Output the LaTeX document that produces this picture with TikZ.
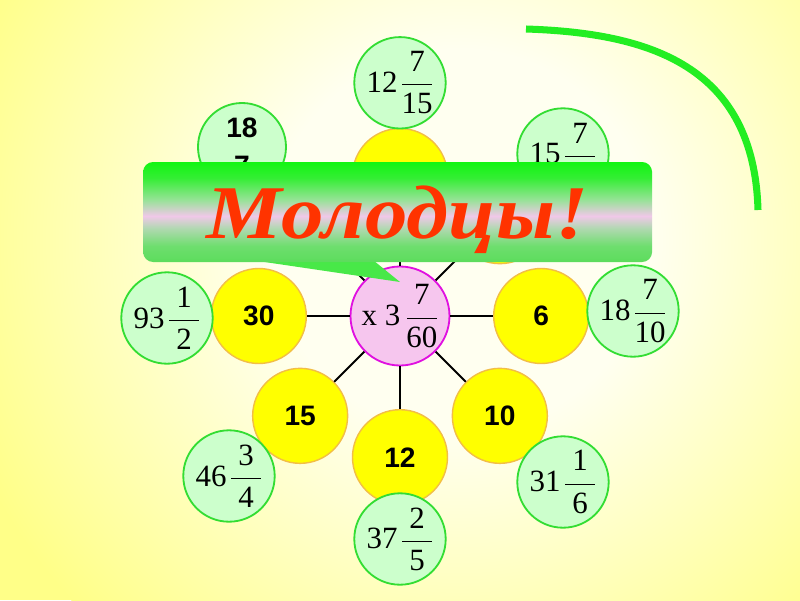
\RequirePackage{fix-cm}
\documentclass[tikz,border=0pt]{standalone}
\usepackage{amsmath}
\usepackage{fontspec}
\setmainfont{Liberation Serif}
\setsansfont{Liberation Sans}
\newfontfamily\praisefont[FakeStretch=1.12]{Liberation Serif}
\usetikzlibrary{positioning,shadings}
\definecolor{sunyellow}{HTML}{FFFF00}
\definecolor{sunedge}{HTML}{F2BE45}
\definecolor{mintfill}{HTML}{CCFFCC}
\definecolor{mintedge}{HTML}{33DD33}
\definecolor{hubfill}{HTML}{F6C6EE}
\definecolor{hubedge}{HTML}{E010E0}
\definecolor{arcgreen}{HTML}{22EE22}
\definecolor{praisered}{HTML}{FF3300}
\definecolor{bgyellow}{HTML}{FFFF88}
\definecolor{bgcream}{HTML}{FFFFF0}
\definecolor{bantop}{HTML}{12F512}
\definecolor{banhigh}{HTML}{34EE34}
\definecolor{banlight}{HTML}{98E298}
\definecolor{banpink}{HTML}{F0C8E8}
\definecolor{bangrey}{HTML}{B2D8B2}
\definecolor{banlow}{HTML}{6EDE6E}
\definecolor{banbot}{HTML}{5CDC5C}
\definecolor{tailgreen}{HTML}{48E848}
\pgfdeclareverticalshading{bannershade}{100bp}{color(0bp)=(banbot); color(25bp)=(banbot); color(33bp)=(banlow); color(42bp)=(bangrey); color(48bp)=(banpink); color(56bp)=(banlight); color(67bp)=(banhigh); color(75bp)=(bantop); color(100bp)=(bantop)}
\pgfdeclareradialshading{bgshade}{\pgfpoint{0bp}{0bp}}{color(0bp)=(bgcream); color(9bp)=(bgcream); color(25bp)=(bgyellow); color(50bp)=(bgyellow)}
\newcommand{\fracpart}[2]{\dfrac{\text{\makebox[0.95em]{#1}}}{\text{\makebox[0.95em]{#2}}}}
\newcommand{\mixfrac}[3]{$\text{#1}\hspace{0.1em}\fracpart{#2}{#3}$}

\begin{document}
\begin{tikzpicture}[
    numdisc/.style={circle, draw=sunedge, line width=1pt, fill=sunyellow, minimum size=2.375cm, inner sep=0pt, font=\sffamily\bfseries\fontsize{20}{24}\selectfont},
    ansdisc/.style={circle, draw=mintedge, line width=1.3pt, fill=mintfill, minimum size=2.2cm, inner sep=0pt, font=\fontsize{22}{26}\selectfont},
    hubdisc/.style={circle, draw=hubedge, line width=1.3pt, fill=hubfill, minimum size=2.375cm, inner sep=0pt, font=\fontsize{22}{26}\selectfont},
    spokeline/.style={line width=1.4pt, black},
    banner/.style={rectangle, rounded corners=0.25cm, shade, shading=bannershade, minimum width=12.725cm, minimum height=2.5cm, inner sep=0pt, text depth=0pt, text=praisered, font=\praisefont\bfseries\itshape\fontsize{54}{60}\selectfont},
]
\useasboundingbox (-10,-7.1) rectangle (10,7.9);
% background
\fill[bgyellow] (-10,-7.1) rectangle (10,7.9);
\begin{scope}
\clip (-10,-7.1) rectangle (10,7.9);
\shade[shading=bgshade] (1.5,1.9) circle (13.25);
\end{scope}
% multiplier and the numbers round it
\node[hubdisc] (hub) at (0,0) {$\text{x 3}\,\fracpart{7}{60}$};
\node[numdisc] (n0) at (0:3.53) {6};
\node[numdisc] (n45) at (45:3.53) {};
\node[numdisc] (n90) at (90:3.5) {};
\node[numdisc] (n135) at (135:3.53) {};
\node[numdisc] (n180) at (180:3.53) {30};
\node[numdisc] (n225) at (225:3.53) {15};
\node[numdisc] (n270) at (270:3.53) {12};
\node[numdisc] (n315) at (315:3.53) {10};
\draw[spokeline] (hub) -- (n0);
\draw[spokeline] (hub) -- (n45);
\draw[spokeline] (hub) -- (n90);
\draw[spokeline] (hub) -- (n135);
\draw[spokeline] (hub) -- (n180);
\draw[spokeline] (hub) -- (n225);
\draw[spokeline] (hub) -- (n270);
\draw[spokeline] (hub) -- (n315);
% answers
\node[ansdisc] (a0) at (5.825,0.125) {\mixfrac{18}{7}{10}};
\node[ansdisc] (a45) at (4.075,4.05) {\mixfrac{15}{7}{\phantom{12}}};
\node[ansdisc] (a90) at (0,5.83) {\mixfrac{12}{7}{15}};
\node[ansdisc, align=center, font=\sffamily\bfseries\fontsize{20}{27}\selectfont] (a135) at (-3.95,4.225) {18\\7};
\node[ansdisc] (a180) at (-5.825,-0.05) {\mixfrac{93}{1}{2}};
\node[ansdisc] (a225) at (-4.275,-4.0) {\mixfrac{46}{3}{4}};
\node[ansdisc] (a270) at (0,-5.575) {\mixfrac{37}{2}{5}};
\node[ansdisc] (a315) at (4.075,-4.15) {\mixfrac{31}{1}{6}};
% arc
\draw[arcgreen, line width=5pt] (3.15,7.175) .. controls (6.25,7.075) and (8.85,6.25) .. (8.95,2.65);
% callout
\coordinate (tailL) at (-4.4,1.5);
\coordinate (tailR) at (-0.8,1.5);
\coordinate (tailtip) at (0,0.85);
\fill[tailgreen] (tailL) -- (tailtip) -- (tailR) -- cycle;
\node[banner] (praise) at (-0.06,2.6) {Молодцы!};
\end{tikzpicture}
\end{document}
